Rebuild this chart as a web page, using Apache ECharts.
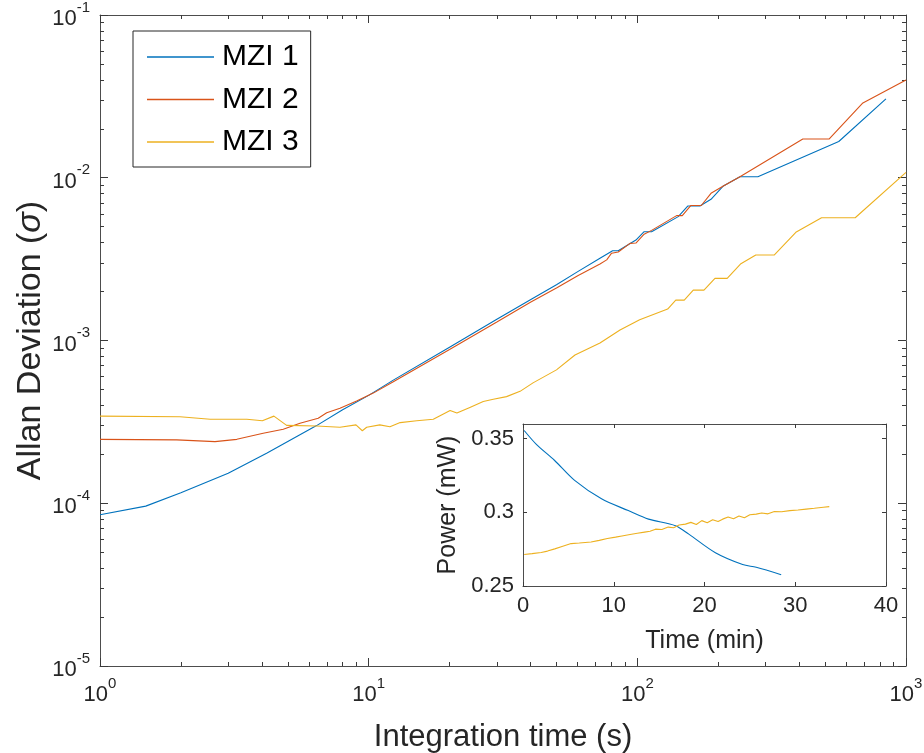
<!DOCTYPE html>
<html>
<head>
<meta charset="utf-8">
<script src="https://cdn.jsdelivr.net/npm/echarts@6/dist/echarts.min.js"></script>
<style>
html,body{margin:0;padding:0;background:#fff;}
#chart{width:924px;height:753px;}
</style>
</head>
<body>
<div id="chart"></div>
<script>
// ---- Main chart data (Allan deviation vs integration time) ----
const mzi1T = [1, 1.48, 2, 3, 4.17, 6.4, 8, 10, 12.35, 20, 30, 40, 50, 60, 72.6, 80.9, 84.9, 98.8, 106, 113, 142, 154, 171, 188, 209, 241, 281, 562, 842];
const mzi1S = [8.5e-5, 9.6e-5, 1.16e-4, 1.53e-4, 2.03e-4, 3.0e-4, 3.75e-4, 4.6e-4, 5.71e-4, 9.1e-4, 1.35e-3, 1.78e-3, 2.2e-3, 2.65e-3, 3.2e-3, 3.56e-3, 3.56e-3, 4.14e-3, 4.66e-3, 4.66e-3, 5.77e-3, 6.7e-3, 6.7e-3, 7.37e-3, 8.9e-3, 1.015e-2, 1.015e-2, 1.67e-2, 3.05e-2];

const mzi2T = [1, 1.93, 2.68, 3.23, 4.05, 4.81, 5.55, 6.49, 6.98, 7.82, 9.02, 10.4, 12.35, 20, 30, 40, 50, 60, 72.6, 76.9, 80.2, 84.9, 93.9, 98.8, 106, 113, 140, 147, 158, 173, 188, 209, 241, 413, 517, 691, 1000];
const mzi2S = [2.47e-4, 2.45e-4, 2.39e-4, 2.47e-4, 2.69e-4, 2.85e-4, 3.1e-4, 3.33e-4, 3.6e-4, 3.83e-4, 4.25e-4, 4.75e-4, 5.58e-4, 8.8e-4, 1.3e-3, 1.72e-3, 2.1e-3, 2.5e-3, 2.95e-3, 3.13e-3, 3.44e-3, 3.5e-3, 3.95e-3, 3.97e-3, 4.5e-3, 4.75e-3, 5.85e-3, 5.85e-3, 6.75e-3, 6.75e-3, 8.02e-3, 8.9e-3, 1.015e-2, 1.73e-2, 1.73e-2, 2.88e-2, 3.99e-2];

const mzi3T = [1, 1.985, 2.57, 3.52, 4.02, 4.44, 4.95, 6.4, 7.82, 8.97, 9.47, 9.83, 11.0, 12.0, 13.1, 15.1, 17.4, 20.1, 21.3, 23.8, 26.7, 29.1, 32.6, 36.6, 40.9, 50, 58.6, 72.6, 86.2, 102, 129.7, 139, 149.5, 161.5, 177, 194.5, 216, 242, 276, 323, 389, 485, 647, 1000];
const mzi3S = [3.43e-4, 3.4e-4, 3.28e-4, 3.28e-4, 3.21e-4, 3.43e-4, 3.01e-4, 2.98e-4, 2.93e-4, 3.03e-4, 2.79e-4, 2.93e-4, 3.03e-4, 2.95e-4, 3.13e-4, 3.21e-4, 3.28e-4, 3.71e-4, 3.58e-4, 3.88e-4, 4.22e-4, 4.36e-4, 4.52e-4, 4.87e-4, 5.49e-4, 6.6e-4, 8.15e-4, 9.66e-4, 1.16e-3, 1.34e-3, 1.56e-3, 1.77e-3, 1.77e-3, 2.04e-3, 2.04e-3, 2.41e-3, 2.41e-3, 2.95e-3, 3.35e-3, 3.35e-3, 4.62e-3, 5.68e-3, 5.68e-3, 1.08e-2];

// ---- Inset data (power vs time) ----
const insetT1 = [0.13, 1.5, 3.46, 5.69, 8.65, 11.6, 13.83, 16.8, 18.27, 21.2, 24.2, 25.7, 28.45];
const insetP1 = [0.3556, 0.3460, 0.3354, 0.3217, 0.3092, 0.3012, 0.2954, 0.2909, 0.2852, 0.2726, 0.2646, 0.2627, 0.2577];

const insetT3 = [0.13, 1.0, 2.0, 2.7, 3.5, 4.3, 5.3, 6.2, 7.5, 8.4, 9.3, 10.2, 10.9, 11.8, 12.6, 13.4, 14.0, 14.6, 15.3, 16.0, 16.6, 17.2, 17.9, 18.5, 19.1, 19.7, 20.3, 20.9, 21.5, 22.0, 22.6, 23.2, 23.8, 24.4, 25.0, 25.7, 26.3, 27.0, 27.7, 28.5, 29.4, 30.3, 31.2, 32.1, 33.1, 33.75];
const insetP3 = [0.2714, 0.2720, 0.2728, 0.2737, 0.2752, 0.2768, 0.2788, 0.2792, 0.2799, 0.2810, 0.2822, 0.2832, 0.2840, 0.2850, 0.2858, 0.2866, 0.2872, 0.2886, 0.2884, 0.2900, 0.2896, 0.2914, 0.2920, 0.2932, 0.2918, 0.2944, 0.2930, 0.2950, 0.2938, 0.2954, 0.2968, 0.2956, 0.2976, 0.2964, 0.2984, 0.2988, 0.2996, 0.2990, 0.3006, 0.3004, 0.3012, 0.3016, 0.3022, 0.3028, 0.3035, 0.3039];

const seriesNames = ['MZI 1', 'MZI 2', 'MZI 3'];
const colors = ['#0072BD', '#D95319', '#EDB120'];

function pairs(xs, ys) { return xs.map((x, i) => [x, ys[i]]); }

const textColor = '#262626';
const axisColor = '#4d4d4d';
const tickColor = '#3a3a3a';
const font = 'Liberation Sans, Arial, Helvetica, sans-serif';

const powRich = {
  b: { fontSize: 22, fontFamily: font, color: textColor, lineHeight: 30, verticalAlign: 'bottom' },
  s: { fontSize: 15, fontFamily: font, color: textColor, lineHeight: 14, verticalAlign: 'top' }
};
function powFmt(v) {
  const e = Math.round(Math.log10(v));
  return '{b|10}{s|' + e + '}';
}

function logAxisBase(gridIndex, position, min, max, showLabel) {
  return {
    type: 'log', logBase: 10, gridIndex, position, min, max,
    axisLine: { show: true, onZero: false, lineStyle: { color: axisColor, width: 1 } },
    axisTick: { show: true, inside: true, length: 8, lineStyle: { color: tickColor, width: 1 } },
    minorTick: { show: true, splitNumber: 9, length: 4, lineStyle: { color: tickColor, width: 1 } },
    splitLine: { show: false },
    minorSplitLine: { show: false },
    axisLabel: showLabel ? { show: true, formatter: powFmt, rich: powRich, margin: 10 } : { show: false }
  };
}

function valAxisBase(gridIndex, position, min, max, interval, showLabel) {
  return {
    type: 'value', gridIndex, position, min, max, interval, z: 8,
    axisLine: { show: true, onZero: false, lineStyle: { color: axisColor, width: 1 } },
    axisTick: { show: true, inside: true, length: 4, lineStyle: { color: tickColor, width: 1 } },
    splitLine: { show: false },
    axisLabel: showLabel ? { show: true, fontSize: 22, fontFamily: font, color: textColor, margin: 9, showMaxLabel: position === 'bottom' } : { show: false }
  };
}

const xMainBottom = Object.assign(logAxisBase(0, 'bottom', 1, 1000, true), {
  name: 'Integration time (s)', nameLocation: 'middle', nameGap: 56,
  nameTextStyle: { fontSize: 31, fontFamily: font, color: textColor }
});
const xMainTop = logAxisBase(0, 'top', 1, 1000, false);
const yMainLeft = Object.assign(logAxisBase(0, 'left', 1e-5, 1e-1, true), {
  name: '{n|Allan Deviation (}{i|σ}{n|)}', nameLocation: 'middle', nameGap: 52, nameMoveOverlap: false,
  nameTextStyle: {
    rich: {
      n: { fontSize: 34, fontFamily: font, color: textColor },
      i: { fontSize: 34, fontFamily: font, color: textColor, fontStyle: 'italic' }
    }
  }
});
const yMainRight = logAxisBase(0, 'right', 1e-5, 1e-1, false);

const xInsetBottom = Object.assign(valAxisBase(1, 'bottom', 0, 40, 10, true), {
  name: 'Time (min)', nameLocation: 'middle', nameGap: 43,
  nameTextStyle: { fontSize: 25, fontFamily: font, color: textColor }
});
const xInsetTop = valAxisBase(1, 'top', 0, 40, 10, false);
const yInsetLeft = Object.assign(valAxisBase(1, 'left', 0.25, 0.36, 0.05, true), {
  name: 'Power (mW)', nameLocation: 'middle', nameGap: 62,
  nameTextStyle: { fontSize: 25, fontFamily: font, color: textColor }
});
const yInsetRight = valAxisBase(1, 'right', 0.25, 0.36, 0.05, false);

const chart = echarts.init(document.getElementById('chart'), null, { renderer: 'canvas' });

const mainSeries = [pairs(mzi1T, mzi1S), pairs(mzi2T, mzi2S), pairs(mzi3T, mzi3S)].map((d, i) => ({
  name: seriesNames[i], type: 'line', xAxisIndex: 0, yAxisIndex: 0, data: d,
  symbol: 'none', lineStyle: { color: colors[i], width: 1.1 }, itemStyle: { color: colors[i] },
  animation: false, z: 2
}));

const insetSeries = [
  { name: 'inset1', type: 'line', xAxisIndex: 2, yAxisIndex: 2, data: pairs(insetT1, insetP1), symbol: 'none', smooth: 0.3,
    lineStyle: { color: colors[0], width: 1.1 }, itemStyle: { color: colors[0] }, animation: false, z: 7 },
  { name: 'inset3', type: 'line', xAxisIndex: 2, yAxisIndex: 2, data: pairs(insetT3, insetP3), symbol: 'none',
    lineStyle: { color: colors[2], width: 1.1 }, itemStyle: { color: colors[2] }, animation: false, z: 7 }
];

chart.setOption({
  backgroundColor: '#ffffff',
  animation: false,
  textStyle: { fontFamily: font },
  grid: [
    { left: 100, top: 15, width: 806, height: 651, show: false, outerBoundsMode: 'none' },
    { left: 523, top: 424, width: 363, height: 162, show: true, backgroundColor: '#ffffff', borderWidth: 0, z: 5, outerBoundsMode: 'none' }
  ],
  legend: {
    data: seriesNames, orient: 'vertical', left: 133, top: 31, icon: 'rect',
    padding: [11, 12, 10, 14], itemWidth: 67, itemHeight: 1.6, itemGap: 12.5,
    borderColor: textColor, borderWidth: 1, backgroundColor: '#ffffff',
    textStyle: { fontSize: 30, lineHeight: 30, fontFamily: font, color: '#000', padding: [0, 0, 0, 3] },
    selectedMode: false
  },
  xAxis: [xMainBottom, xMainTop, xInsetBottom, xInsetTop],
  yAxis: [yMainLeft, yMainRight, yInsetLeft, yInsetRight],
  series: mainSeries.concat(insetSeries)
});
</script>
</body>
</html>
